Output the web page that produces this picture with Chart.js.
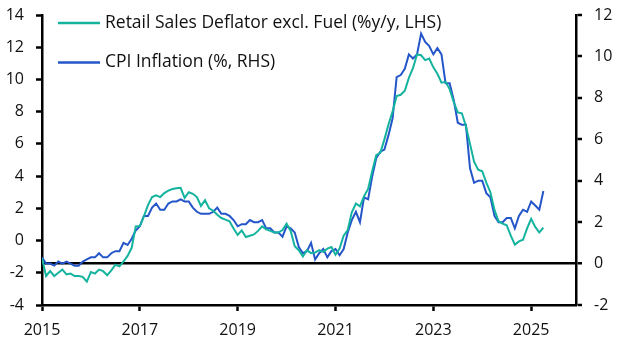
<!DOCTYPE html>
<html>
<head>
<meta charset="utf-8">
<script src="https://cdn.jsdelivr.net/npm/chart.js@4.4.1/dist/chart.umd.min.js"></script>
<style>
  html, body { margin: 0; padding: 0; background: #fff; }
  #chart { display: block; }
</style>
</head>
<body>
<canvas id="chart" width="629" height="354"></canvas>
<script>
// Monthly data, Jan 2015 to Apr 2025
var startYear = 2015;

var seriesNames = ['Retail Sales Deflator excl. Fuel (%y/y, LHS)', 'CPI Inflation (%, RHS)'];

// Retail sales deflator excl. fuel, %y/y (left axis)
var retailDeflator = [
    -1.1, -2.2, -1.9, -2.2, -2.0, -1.8, -2.1, -2.05, -2.2, -2.2, -2.25, -2.55,
    -1.95, -2.05, -1.8, -1.9, -2.15, -1.85, -1.5, -1.6, -1.3, -0.95, -0.45, 0.88,
    0.9, 1.5, 2.2, 2.7, 2.8, 2.7, 2.95, 3.1, 3.2, 3.25, 3.27, 2.65,
    3.0, 2.9, 2.7, 2.15, 2.5, 2.0, 1.85, 1.6, 1.4, 1.3, 1.2, 0.75,
    0.35, 0.63, 0.22, 0.3, 0.38, 0.6, 0.88, 0.7, 0.6, 0.5, 0.5, 0.65,
    1.05, 0.6, -0.35, -0.6, -0.99, -0.6, -0.78, -0.75, -0.6, -0.7, -0.5, -0.4,
    -0.88, -0.5, 0.3, 0.65, 1.75, 2.3, 2.12, 2.75, 3.2, 4.3, 5.3, 5.45,
    6.28, 7.2, 8.0, 8.97, 9.05, 9.3, 10.1, 10.7, 11.55, 11.5, 11.2, 11.3,
    10.75, 10.35, 9.8, 9.85, 9.4, 8.6, 7.95, 7.9, 7.1, 6.0, 4.9, 4.4,
    4.3, 3.6, 3.0, 1.9, 1.2, 1.05, 0.95, 0.3, -0.25, -0.05, 0.05, 0.75,
    1.35, 0.85, 0.5, 0.8
];

// CPI inflation, % (right axis)
var cpiInflation = [
    0.3, 0.0, 0.0, -0.1, 0.1, 0.0, 0.1, 0.0, -0.1, -0.1, 0.1, 0.2,
    0.3, 0.3, 0.5, 0.3, 0.3, 0.5, 0.6, 0.6, 1.0, 0.9, 1.2, 1.6,
    1.8, 2.3, 2.3, 2.7, 2.9, 2.6, 2.6, 2.9, 3.0, 3.0, 3.1, 3.0,
    3.0, 2.7, 2.5, 2.4, 2.4, 2.4, 2.5, 2.7, 2.4, 2.4, 2.3, 2.1,
    1.8, 1.9, 1.9, 2.1, 2.0, 2.0, 2.1, 1.7, 1.7, 1.5, 1.5, 1.3,
    1.8, 1.7, 1.5, 0.8, 0.5, 0.6, 1.0, 0.2, 0.5, 0.7, 0.3, 0.6,
    0.7, 0.4, 0.7, 1.5, 2.1, 2.5, 2.0, 3.2, 3.1, 4.2, 5.1, 5.4,
    5.5, 6.2, 7.0, 9.0, 9.1, 9.4, 10.1, 9.9, 10.1, 11.1, 10.7, 10.5,
    10.1, 10.4, 10.1, 8.7, 8.7, 7.9, 6.8, 6.7, 6.7, 4.6, 3.9, 4.0,
    4.0, 3.4, 3.2, 2.3, 2.0, 2.0, 2.2, 2.2, 1.7, 2.3, 2.6, 2.5,
    3.0, 2.8, 2.6, 3.5
];

var xTicks = [2015, 2017, 2019, 2021, 2023, 2025];
var leftTicks = [-4, -2, 0, 2, 4, 6, 8, 10, 12, 14];
var rightTicks = [-2, 0, 2, 4, 6, 8, 10, 12];

var teal = '#14b39e';
var blue = '#2456c9';
var fontFamily = '"Open Sans", "Noto Sans", sans-serif';

function toPoints(values) {
    return values.map(function (v, i) {
        return { x: startYear + i / 12, y: v };
    });
}

function fixedTicks(list) {
    return function (scale) {
        scale.ticks = list.map(function (v) { return { value: v }; });
    };
}

// y axes: fixed width, and let layout padding decide the top/bottom room
function fixWidth(w) {
    return function (scale) {
        scale.width = w;
        scale.paddingTop = 0;
        scale.paddingBottom = 0;
    };
}

// Legend drawn inside the plot, top left, one series per row
var insideLegend = {
    id: 'insideLegend',
    afterDraw: function (chart) {
        var ctx = chart.ctx;
        var area = chart.chartArea;
        ctx.save();
        ctx.font = '17.5px ' + fontFamily;
        ctx.textBaseline = 'middle';
        chart.data.datasets.forEach(function (ds, i) {
            var y = area.top + 8 + i * 39.5;
            var x = area.left + 16;
            ctx.strokeStyle = ds.borderColor;
            ctx.lineWidth = 2.5;
            ctx.beginPath();
            ctx.moveTo(x, y);
            ctx.lineTo(x + 42, y);
            ctx.stroke();
            ctx.fillStyle = '#111';
            ctx.fillText(ds.label, x + 47, y);
        });
        ctx.restore();
    }
};

var axisFont = { family: fontFamily, size: 16 };

new Chart(document.getElementById('chart'), {
    type: 'line',
    data: {
        datasets: [{
            label: seriesNames[0],
            data: toPoints(retailDeflator),
            borderColor: teal,
            borderWidth: 2,
            pointRadius: 0,
            tension: 0,
            yAxisID: 'yLeft'
        }, {
            label: seriesNames[1],
            data: toPoints(cpiInflation),
            borderColor: blue,
            borderWidth: 2,
            pointRadius: 0,
            tension: 0,
            yAxisID: 'yRight'
        }]
    },
    options: {
        responsive: false,
        devicePixelRatio: 1,
        animation: false,
        layout: { padding: { top: 15, left: 0, right: 0, bottom: 0 } },
        plugins: {
            legend: { display: false },
            tooltip: { enabled: false }
        },
        scales: {
            x: {
                type: 'linear',
                min: 2015,
                max: 2025 + 11 / 12,
                afterBuildTicks: fixedTicks(xTicks),
                afterFit: function (scale) { scale.height = 49; },
                ticks: {
                    color: '#111',
                    font: axisFont,
                    padding: 10,
                    maxRotation: 0,
                    callback: function (v) { return String(v); }
                },
                grid: {
                    drawOnChartArea: false,
                    drawTicks: true,
                    tickLength: 6,
                    tickColor: '#000',
                    tickWidth: 2.5
                },
                border: { display: true, color: '#000', width: 2.5 }
            },
            yLeft: {
                type: 'linear',
                position: 'left',
                min: -4,
                max: 14,
                afterBuildTicks: fixedTicks(leftTicks),
                afterFit: fixWidth(42),
                ticks: { color: '#111', font: axisFont, padding: 12 },
                grid: {
                    drawOnChartArea: false,
                    drawTicks: true,
                    tickLength: 6,
                    tickColor: '#000',
                    tickWidth: 2.5
                },
                border: { display: true, color: '#000', width: 2.5 }
            },
            yRight: {
                type: 'linear',
                position: 'right',
                min: -2,
                max: 12,
                afterBuildTicks: fixedTicks(rightTicks),
                afterFit: fixWidth(53),
                ticks: { color: '#111', font: axisFont, padding: 12 },
                grid: {
                    drawOnChartArea: true,
                    drawTicks: true,
                    tickLength: 6,
                    tickColor: '#000',
                    tickWidth: 2.5,
                    color: function (c) { return c.tick && c.tick.value === 0 ? '#000' : 'rgba(0,0,0,0)'; },
                    lineWidth: function (c) { return c.tick && c.tick.value === 0 ? 2.5 : 0; }
                },
                border: { display: true, color: '#000', width: 2.5 }
            }
        }
    },
    plugins: [insideLegend]
});
</script>
</body>
</html>
